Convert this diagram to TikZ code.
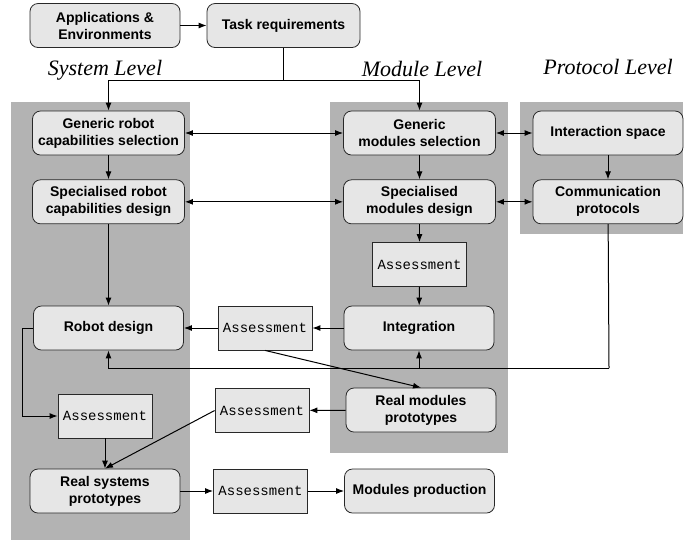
\documentclass[tikz,border=0pt]{standalone}
\usepackage{fontspec}
\setmainfont{Liberation Serif}
\setsansfont{Liberation Sans}
\setmonofont{Liberation Mono}
\usepackage{xcolor}
\definecolor{panelgray}{RGB}{179, 179, 179}
\definecolor{boxgray}{RGB}{230, 230, 230}
\definecolor{edgegray}{RGB}{40, 40, 40}
\usetikzlibrary{arrows.meta, positioning}

\begin{document}
\begin{tikzpicture}[
    x=0.5pt, y=-0.5pt,
    node distance=12pt and 19pt,
    blk/.style={draw=edgegray, rounded corners=4pt, fill=boxgray,
                minimum width=75pt, minimum height=22pt, inner sep=1pt,
                align=center, font=\sffamily\bfseries\fontsize{7}{8.5}\selectfont},
    asm/.style={draw=edgegray, fill=boxgray, minimum width=47pt,
                minimum height=22pt, inner sep=1pt,
                font=\ttfamily\fontsize{7}{8.5}\selectfont},
    lvl/.style={font=\itshape\fontsize{11}{13}\selectfont},
    panel/.style={fill=panelgray, draw=none},
    arr/.style={-{Latex[length=4pt, width=3pt]}, line width=0.5pt},
    darr/.style={{Latex[length=4pt, width=3pt]}-{Latex[length=4pt, width=3pt]}, line width=0.5pt},
    ln/.style={line width=0.5pt}
  ]
  \useasboundingbox (0,0) rectangle (684,543);

  % level panels
  \fill[panel] (11,102)  rectangle (190,540);
  \fill[panel] (330,102) rectangle (508,453);
  \fill[panel] (520,102) rectangle (683,234);

  \node[lvl] (syslbl)  at (105,70) {System Level};
  \node[lvl] (modlbl)  at (422,69) {Module Level};
  \node[lvl] (protlbl) at (608,67) {Protocol Level};

  % top
  \node[blk] (apps) at (105,25.5) {Applications \&\\Environments};
  \node[blk, minimum width=76.5pt] (task) at (283.5,25.5) {Task requirements};

  % system level
  \node[blk, minimum width=76pt] (gensys) at (108.5,133) {Generic robot\\capabilities selection};
  \node[blk, minimum width=76pt, below=of gensys] (specsys) {Specialised robot\\capabilities design};
  \node[blk] (robot) at (108.5,328) {Robot design};
  \node[asm] (asmsys) at (105,416) {Assessment};
  \node[blk] (realsys) at (105,491) {Real systems\\prototypes};

  % module level
  \node[blk, minimum width=76pt] (genmod) at (419.5,133) {Generic\\modules selection};
  \node[blk, minimum width=76pt, below=of genmod] (specmod) {Specialised\\modules design};
  \node[asm] (asmmod) at (419.5,264.5) {Assessment};
  \node[blk] (integ) at (419,328) {Integration};
  \node[blk] (realmod) at (421,410) {Real modules\\prototypes};

  % protocol level
  \node[blk] (inter) at (608,133) {Interaction space};
  \node[blk, below=of inter] (comm) {Communication\\protocols};

  % in between
  \node[asm] (asmrob) at (265,328) {Assessment};
  \node[asm] (asmmid) at (262,410.5) {Assessment};
  \node[asm] (asmbot) at (260.5,491) {Assessment};
  \node[blk] (modprod) at (419.5,491) {Modules production};

  \coordinate (tj) at (283.5,80);
  \coordinate (cb) at (609,368);

  \draw[arr] (apps) -- (task);
  \draw[ln] (task) -- (tj);
  \draw[arr] (tj) -| (gensys);
  \draw[arr] (tj) -| (genmod);

  \draw[darr] (gensys) -- (genmod);
  \draw[darr] (genmod) -- (inter);
  \draw[darr] (specsys) -- (specmod);
  \draw[darr] (specmod) -- (comm);

  \draw[arr] (gensys) -- (specsys);
  \draw[arr] (genmod) -- (specmod);
  \draw[arr] (inter) -- (comm);
  \draw[arr] (specsys) -- (robot);
  \draw[arr] (specmod) -- (asmmod);
  \draw[arr] (asmmod) -- (integ);

  \draw[arr] (integ) -- (asmrob);
  \draw[arr] (asmrob) -- (robot);
  \draw[arr] (asmrob.south) -- (realmod.north);

  \draw[ln] (comm) -- (cb);
  \draw[arr] (cb) -| (robot);
  \draw[arr] (cb) -| (integ);

  \draw[arr] (realmod) -- (asmmid);
  \draw[arr] (asmmid.west) -- (realsys.north);
  \draw[arr] (robot.west) -- ++(-11,0) |- (asmsys.west);
  \draw[arr] (asmsys) -- (realsys);
  \draw[arr] (realsys) -- (asmbot);
  \draw[arr] (asmbot) -- (modprod);
\end{tikzpicture}
\end{document}
